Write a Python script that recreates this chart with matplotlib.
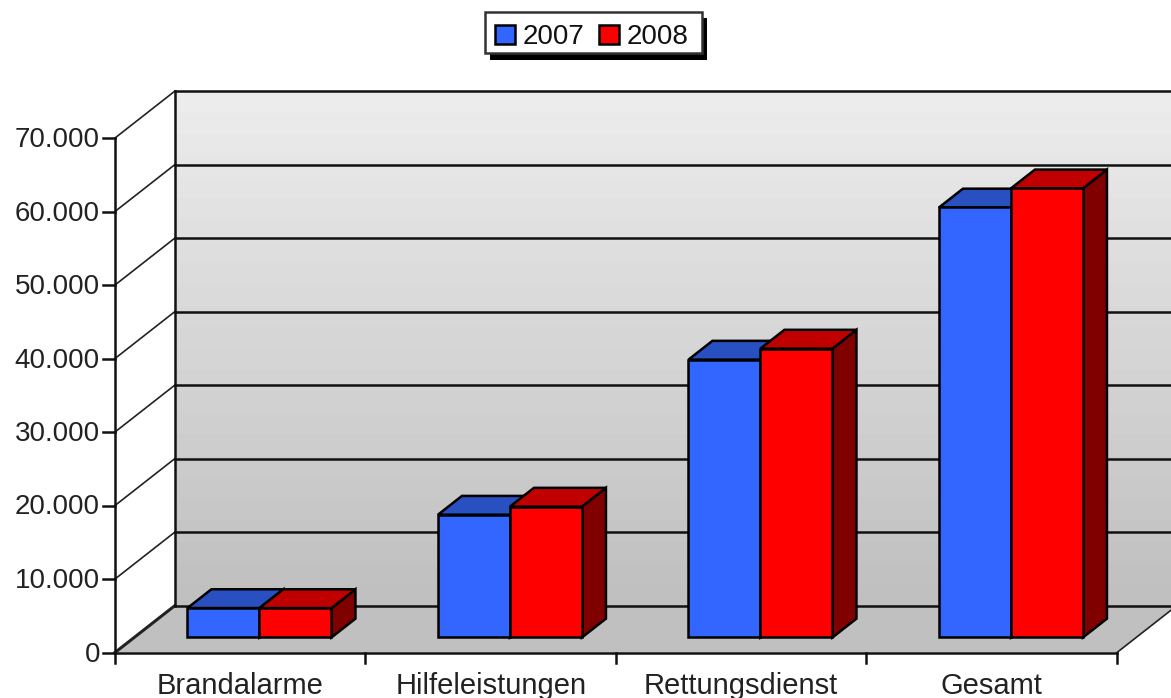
import numpy as np
import matplotlib
matplotlib.use('Agg')
import matplotlib.pyplot as plt
from matplotlib.patches import Polygon, Rectangle

plt.rcParams['font.family'] = ['Liberation Sans', 'DejaVu Sans']

categories = ['Brandalarme', 'Hilfeleistungen', 'Rettungsdienst', 'Gesamt']
values_2007 = [4000, 16700, 37800, 58500]
values_2008 = [4000, 17800, 39300, 61100]
y_ticks = [0, 10000, 20000, 30000, 40000, 50000, 60000, 70000]
y_labels = ['0', '10.000', '20.000', '30.000', '40.000', '50.000', '60.000', '70.000']

W, H = 1171, 698
# pixels per category / per value unit on the front plane
PX_CAT = 250.5
PX_VAL = 73.5 / 10000
X0, Y0 = 115, 652.5   # front corner of the chart in pixels
DEPTH_X = 60 / PX_CAT
DEPTH_Y = 47 / PX_VAL
BAR_W = 72 / PX_CAT

BLUE, BLUE_TOP = '#3366ff', '#2850c0'
RED, RED_TOP, RED_SIDE = '#ff0000', '#c00000', '#800000'
LW = 1.8


def project(cat, val, d=0.0):
    # move a point on the front plane back by depth d (0 front, 1 back wall)
    return (cat + d * DEPTH_X, val + d * DEPTH_Y)


def draw_bar(ax, left, val, color, top_color, side_color, z):
    right = left + BAR_W
    d0, d1 = 0.32, 0.72
    front = [project(left, 0, d0), project(right, 0, d0), project(right, val, d0), project(left, val, d0)]
    top = [project(left, val, d0), project(right, val, d0), project(right, val, d1), project(left, val, d1)]
    side = [project(right, 0, d0), project(right, 0, d1), project(right, val, d1), project(right, val, d0)]
    ax.add_patch(Polygon(side, fc=side_color, ec='black', lw=LW, zorder=z, joinstyle='miter'))
    ax.add_patch(Polygon(top, fc=top_color, ec='black', lw=LW, zorder=z, joinstyle='miter'))
    ax.add_patch(Polygon(front, fc=color, ec='black', lw=LW, zorder=z + 0.1, joinstyle='miter'))


fig = plt.figure(figsize=(W / 100, H / 100), dpi=100, facecolor='white')
ax = fig.add_axes([0, 0, 1, 1])
ax.axis('off')

n = len(categories)
top_val = y_ticks[-1]
x_end = n + 0.6

# back wall with grey gradient
grad = np.linspace(0, 1, 24).reshape(-1, 1)
bx, by0 = project(0, 0, 1)
_, by1 = project(0, top_val, 1)
ax.imshow(grad, extent=(bx, x_end, by0, by1), origin='lower', aspect='auto',
          cmap=matplotlib.colors.LinearSegmentedColormap.from_list('wall', ['#c0c0c0', '#ececec']),
          zorder=1, interpolation='nearest')
ax.set_xlim(-X0 / PX_CAT, (W - X0) / PX_CAT)
ax.set_ylim((Y0 - H) / PX_VAL, Y0 / PX_VAL)

# floor
ax.add_patch(Polygon([project(0, 0), project(n, 0), project(n, 0, 1), project(0, 0, 1)],
                     fc='#c0c0c0', ec='none', zorder=1.5))

# grid lines on the wall and the left side
for t in y_ticks:
    p0 = project(0, t)
    p1 = project(0, t, 1)
    ax.plot([p1[0], x_end], [p1[1], p1[1]], color='#111111', lw=LW, zorder=2)
    ax.plot([p0[0], p1[0]], [p0[1], p1[1]], color='#222222', lw=1.2 if t else LW + 0.4, zorder=2)
    ax.plot([p0[0] - 12 / PX_CAT, p0[0]], [p0[1], p0[1]], color='#111111', lw=LW, zorder=3)

# axis lines
ax.plot([0, 0], [0, top_val], color='#111111', lw=LW, zorder=3)
ax.plot([bx, bx], [by0, by1], color='#111111', lw=LW, zorder=2)
ax.plot([0, n], [0, 0], color='#111111', lw=LW, zorder=3)
p = project(n, 0, 1)
ax.plot([n, p[0]], [0, p[1]], color='#222222', lw=1.2, zorder=2)
for i in range(n + 1):
    ax.plot([i, i], [0, -10 / PX_VAL], color='#111111', lw=LW, zorder=3)

# bars
for i in range(n):
    center = i + 0.5
    draw_bar(ax, center - BAR_W, values_2007[i], BLUE, BLUE_TOP, BLUE_TOP, 4 + i)
    draw_bar(ax, center, values_2008[i], RED, RED_TOP, RED_SIDE, 4.3 + i)

# tick labels
for t, lab in zip(y_ticks, y_labels):
    ax.text(-15 / PX_CAT, t - 2 / PX_VAL, lab, ha='right', va='center', fontsize=20,
            color='#222222', zorder=5)
for i, cat in enumerate(categories):
    ax.text(i + 0.5, -41 / PX_VAL, cat, ha='center', va='baseline', fontsize=21,
            color='#222222', zorder=5)

# legend, in pixel coordinates
lax = fig.add_axes([0, 0, 1, 1])
lax.set_xlim(0, W)
lax.set_ylim(H, 0)
lax.axis('off')
lax.patch.set_alpha(0)
lax.add_patch(Rectangle((490, 18), 217, 42, fc='black', ec='none', zorder=1))
lax.add_patch(Rectangle((485, 12), 217, 41, fc='white', ec='#333333', lw=1.8, zorder=2))
lax.add_patch(Rectangle((495, 25), 20, 19, fc=BLUE, ec='black', lw=1.8, zorder=3))
lax.add_patch(Rectangle((599, 25), 20, 19, fc=RED, ec='black', lw=1.8, zorder=3))
lax.text(523, 37, '2007', ha='left', va='center', fontsize=20, color='#111111', zorder=3)
lax.text(627, 37, '2008', ha='left', va='center', fontsize=20, color='#111111', zorder=3)

fig.savefig('out.png', dpi=100, facecolor='white')
